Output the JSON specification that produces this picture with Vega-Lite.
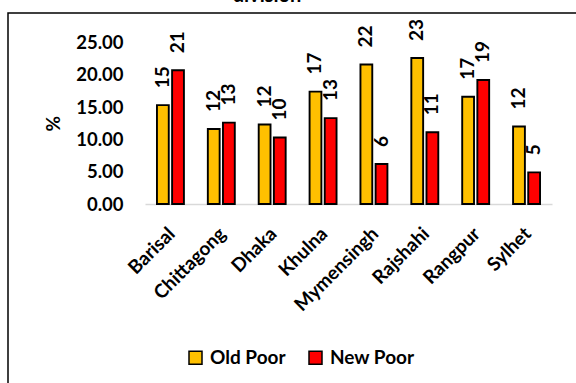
{
  "$schema": "https://vega.github.io/schema/vega-lite/v6.json",
  "autosize": "none",
  "width": 600,
  "height": 400,
  "padding": {"left": 8, "top": 13, "right": -32, "bottom": -30},
  "background": "white",
  "title": {
    "text": "division",
    "font": "Lato",
    "fontSize": 20,
    "fontWeight": "bold",
    "color": "black",
    "anchor": "middle",
    "dx": -41,
    "offset": 7
  },
  "config": {
    "font": "Lato",
    "view": {"stroke": "black", "strokeWidth": 1.5}
  },
  "data": {
    "values": [
      {"division": "Barisal", "group": "Old Poor", "pct": 15.3},
      {"division": "Barisal", "group": "New Poor", "pct": 20.7},
      {"division": "Chittagong", "group": "Old Poor", "pct": 11.6},
      {"division": "Chittagong", "group": "New Poor", "pct": 12.6},
      {"division": "Dhaka", "group": "Old Poor", "pct": 12.3},
      {"division": "Dhaka", "group": "New Poor", "pct": 10.3},
      {"division": "Khulna", "group": "Old Poor", "pct": 17.4},
      {"division": "Khulna", "group": "New Poor", "pct": 13.3},
      {"division": "Mymensingh", "group": "Old Poor", "pct": 21.6},
      {"division": "Mymensingh", "group": "New Poor", "pct": 6.2},
      {"division": "Rajshahi", "group": "Old Poor", "pct": 22.6},
      {"division": "Rajshahi", "group": "New Poor", "pct": 11.1},
      {"division": "Rangpur", "group": "Old Poor", "pct": 16.6},
      {"division": "Rangpur", "group": "New Poor", "pct": 19.2},
      {"division": "Sylhet", "group": "Old Poor", "pct": 12.0},
      {"division": "Sylhet", "group": "New Poor", "pct": 4.9}
    ]
  },
  "encoding": {
    "x": {
      "field": "division",
      "type": "nominal",
      "sort": null,
      "scale": {"range": [137, 544], "paddingInner": 0.47, "paddingOuter": 0.235},
      "axis": {
        "orient": "bottom",
        "offset": -209,
        "title": null,
        "labelAngle": -45,
        "labelFont": "Lato",
        "labelFontSize": 19,
        "labelFontWeight": "bold",
        "labelColor": "black",
        "labelPadding": 20,
        "labelOffset": -5,
        "ticks": false,
        "grid": false,
        "domainColor": "#d9d9d9",
        "domainWidth": 1.5
      }
    },
    "xOffset": {
      "field": "group",
      "type": "nominal",
      "sort": ["Old Poor", "New Poor"],
      "scale": {"paddingInner": 0.22, "paddingOuter": 0}
    },
    "y": {
      "field": "pct",
      "type": "quantitative",
      "scale": {"domain": [0, 25], "range": [191, 29.5], "nice": false},
      "axis": {
        "offset": -137,
        "domain": false,
        "ticks": false,
        "grid": false,
        "values": [0, 5, 10, 15, 20, 25],
        "format": ".2f",
        "labelFont": "Lato",
        "labelFontSize": 18.5,
        "labelFontWeight": "bold",
        "labelColor": "black",
        "labelPadding": 22,
        "title": "%",
        "titleFont": "Lato",
        "titleFontSize": 19,
        "titleFontWeight": "bold",
        "titleColor": "black",
        "titlePadding": 12
      }
    }
  },
  "layer": [
    {
      "mark": {"type": "bar", "stroke": "black", "strokeWidth": 1.9},
      "encoding": {
        "color": {
          "field": "group",
          "type": "nominal",
          "scale": {"domain": ["Old Poor", "New Poor"], "range": ["#FFC000", "#FF0000"]},
          "legend": {
            "title": null,
            "orient": "none",
            "legendX": 178,
            "legendY": 335,
            "direction": "horizontal",
            "padding": 0,
            "symbolType": "square",
            "symbolSize": 169,
            "symbolStrokeColor": "black",
            "symbolStrokeWidth": 1.5,
            "symbolOpacity": 1,
            "labelFont": "Lato",
            "labelFontSize": 19,
            "labelFontWeight": "bold",
            "labelColor": "black",
            "labelOffset": 5,
            "columnPadding": 20
          }
        }
      }
    },
    {
      "mark": {
        "type": "text",
        "angle": 270,
        "align": "left",
        "baseline": "middle",
        "dx": 17,
        "font": "Lato",
        "fontSize": 19,
        "fontWeight": "bold",
        "color": "black"
      },
      "encoding": {
        "text": {"field": "pct", "type": "quantitative", "format": ".0f"}
      }
    }
  ]
}
